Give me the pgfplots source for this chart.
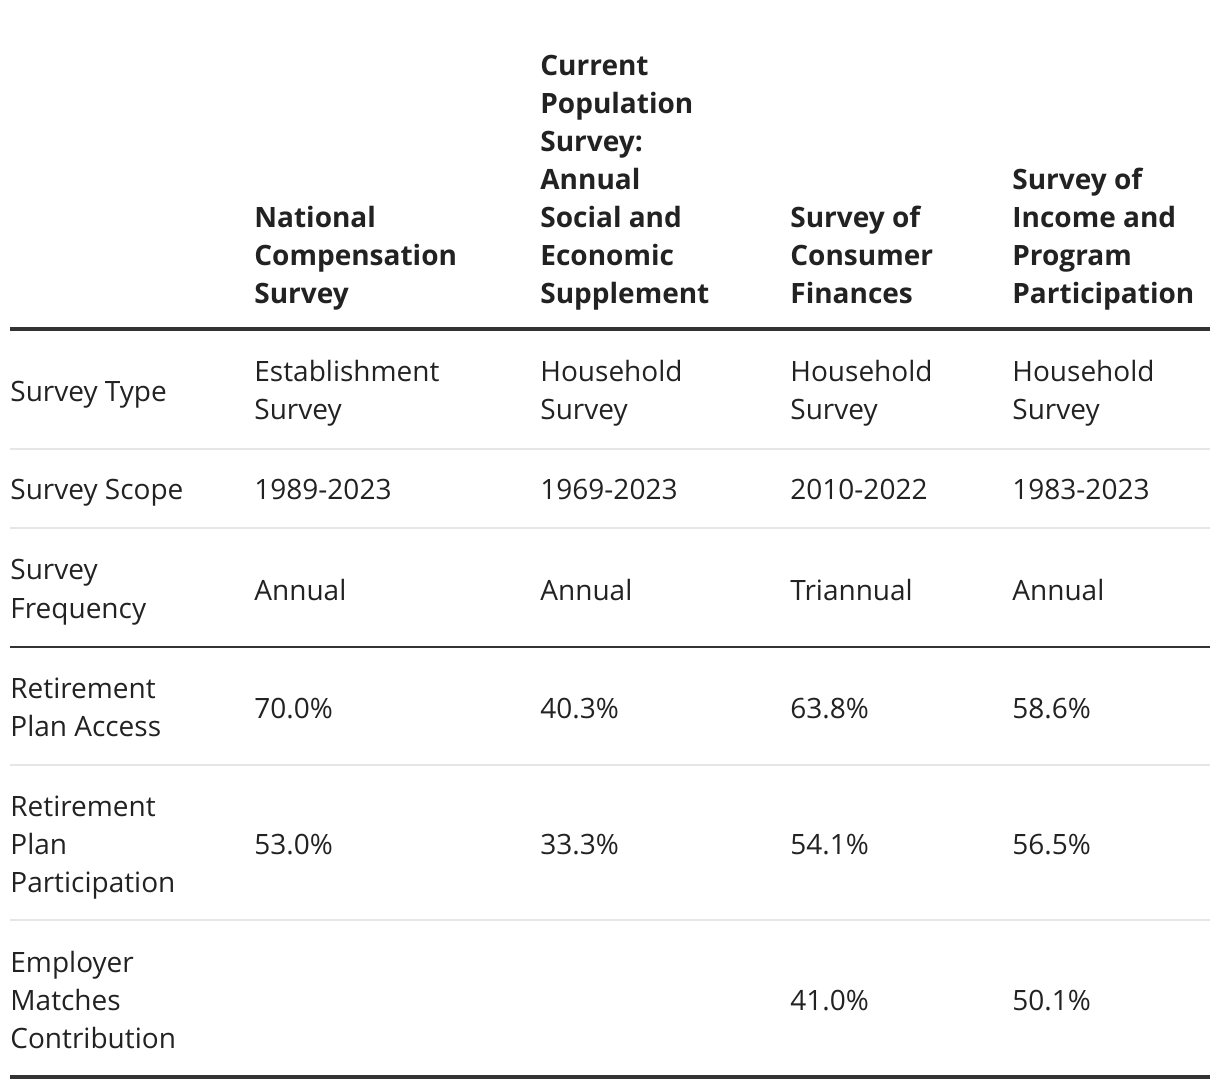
\documentclass[border=0pt]{standalone}
\usepackage{pgfplots}
\pgfplotsset{compat=1.18}
\usepackage{fontspec}
\setmainfont{Open Sans}
\definecolor{txt}{HTML}{222222}
\definecolor{rule}{HTML}{333333}
\definecolor{light}{HTML}{E6E6E6}
\newcommand{\cell}[3]{\node[anchor=base west,inner sep=0pt,font=\fontsize{14}{19}\selectfont,text=txt] at (axis cs:#1,#2) {#3};}
\newcommand{\hcell}[3]{\node[anchor=base west,inner sep=0pt,font=\fontsize{14}{19}\selectfont\bfseries,text=txt] at (axis cs:#1,#2) {#3};}
\begin{document}
\begin{tikzpicture}
\begin{axis}[width=610pt,height=545pt,scale only axis,xmin=0,xmax=1220,ymin=0,ymax=1090,y dir=reverse,hide axis,clip=false]
\addplot[draw=none] coordinates {(0,0) (1220,1090)};
% header
\hcell{254}{228}{National}
\hcell{254}{266}{Compensation}
\hcell{254}{304}{Survey}
\hcell{540}{76}{Current}
\hcell{540}{114}{Population}
\hcell{540}{152}{Survey:}
\hcell{540}{190}{Annual}
\hcell{540}{228}{Social and}
\hcell{540}{266}{Economic}
\hcell{540}{304}{Supplement}
\hcell{790}{228}{Survey of}
\hcell{790}{266}{Consumer}
\hcell{790}{304}{Finances}
\hcell{1012}{190}{Survey of}
\hcell{1012}{228}{Income and}
\hcell{1012}{266}{Program}
\hcell{1012}{304}{Participation}
\draw[line width=2pt,rule] (axis cs:10,329) -- (axis cs:1210,329);
% Survey type
\cell{10}{402}{Survey Type}
\cell{254}{382}{Establishment}
\cell{254}{420}{Survey}
\cell{540}{382}{Household}
\cell{540}{420}{Survey}
\cell{790}{382}{Household}
\cell{790}{420}{Survey}
\cell{1012}{382}{Household}
\cell{1012}{420}{Survey}
\draw[line width=0.8pt,light] (axis cs:10,449) -- (axis cs:1210,449);
% scope
\cell{10}{500}{Survey Scope}
\cell{254}{500}{1989-2023}
\cell{540}{500}{1969-2023}
\cell{790}{500}{2010-2022}
\cell{1012}{500}{1983-2023}
\draw[line width=0.8pt,light] (axis cs:10,528) -- (axis cs:1210,528);
% frequency
\cell{10}{580}{Survey}
\cell{10}{618}{Frequency}
\cell{254}{600}{Annual}
\cell{540}{600}{Annual}
\cell{790}{600}{Triannual}
\cell{1012}{600}{Annual}
\draw[line width=1pt,rule] (axis cs:10,647) -- (axis cs:1210,647);
% access
\cell{10}{698}{Retirement}
\cell{10}{736}{Plan Access}
\cell{254}{718}{70.0\%}
\cell{540}{718}{40.3\%}
\cell{790}{718}{63.8\%}
\cell{1012}{718}{58.6\%}
\draw[line width=0.8pt,light] (axis cs:10,765) -- (axis cs:1210,765);
% participation
\cell{10}{816}{Retirement}
\cell{10}{854}{Plan}
\cell{10}{892}{Participation}
\cell{254}{854}{53.0\%}
\cell{540}{854}{33.3\%}
\cell{790}{854}{54.1\%}
\cell{1012}{854}{56.5\%}
\draw[line width=0.8pt,light] (axis cs:10,920) -- (axis cs:1210,920);
% match
\cell{10}{972}{Employer}
\cell{10}{1010}{Matches}
\cell{10}{1048}{Contribution}
\cell{790}{1010}{41.0\%}
\cell{1012}{1010}{50.1\%}
\draw[line width=2pt,rule] (axis cs:10,1077) -- (axis cs:1210,1077);
\end{axis}
\end{tikzpicture}
\end{document}
